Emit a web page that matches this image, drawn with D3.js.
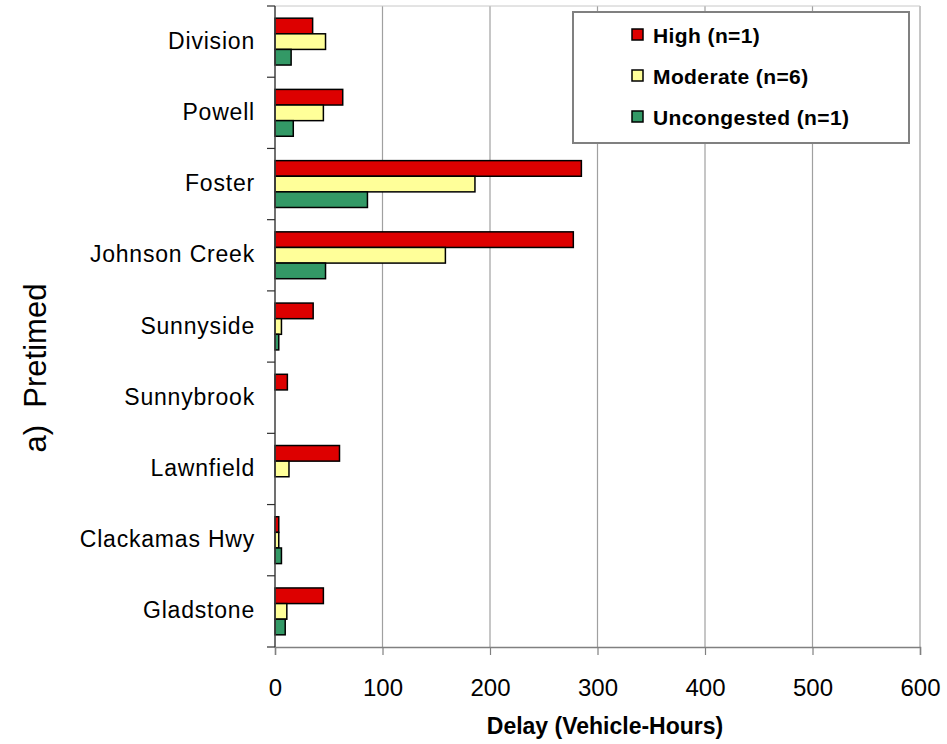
<!DOCTYPE html>
<html><head><meta charset="utf-8">
<script src="https://cdn.jsdelivr.net/npm/d3@7"></script>
<style>body{margin:0;background:#fff}svg{display:block}text{font-family:Arial,"Liberation Sans",sans-serif}</style>
</head><body>
<script>
const categories = ["Division","Powell","Foster","Johnson Creek","Sunnyside","Sunnybrook","Lawnfield","Clackamas Hwy","Gladstone"];
const seriesNames = ["High (n=1)","Moderate (n=6)","Uncongested (n=1)"];
const high = [35, 63, 285, 277.5, 35.5, 11.5, 60, 3.5, 45];
const moderate = [47, 45, 186, 158.5, 6, 0, 13, 3.5, 11];
const uncongested = [15, 17, 86, 47, 3.5, 0, 0, 6, 9.5];
const xTicks = [0,100,200,300,400,500,600];
const colors = ["#DD0000","#FFFF99","#339966"];
const series = [high, moderate, uncongested];

const W = 947, H = 744;
const m = {left:275, right:27, top:6, bottom:97};
const svg = d3.select("body").append("svg").attr("width",W).attr("height",H);
const x = d3.scaleLinear().domain([0,600]).range([m.left, W-m.right]);
const y = d3.scaleBand().domain(categories).range([m.top, H-m.bottom]);
const inner = d3.scaleBand().domain(d3.range(3)).range([0, y.bandwidth()]).paddingInner(0).paddingOuter(0.78);

// gridlines
svg.append("g").selectAll("line").data(xTicks.slice(1)).join("line")
  .attr("x1",d=>x(d)).attr("x2",d=>x(d)).attr("y1",m.top).attr("y2",H-m.bottom)
  .attr("stroke","#a0a0a0").attr("stroke-width",1.2);
svg.append("line").attr("x1",m.left).attr("x2",x(600)).attr("y1",m.top).attr("y2",m.top)
  .attr("stroke","#c8c8c8").attr("stroke-width",1);

// bars
categories.forEach((c,i)=>{
  series.forEach((s,j)=>{
    const v = s[i];
    if(v<=0) return;
    svg.append("rect")
      .attr("x",x(0)).attr("y",y(c)+inner(j))
      .attr("width",x(v)-x(0)).attr("height",inner.bandwidth())
      .attr("fill",colors[j]).attr("stroke","#000").attr("stroke-width",1.5);
  });
});

// bottom axis
const xa = svg.append("g").attr("transform",`translate(0,${H-m.bottom})`)
  .call(d3.axisBottom(x).tickValues(xTicks).tickSize(8).tickPadding(24));
xa.select(".domain").attr("stroke","#808080").attr("stroke-width",1.5);
xa.selectAll(".tick line").attr("stroke","#808080").attr("stroke-width",1.2);
xa.selectAll("text").attr("font-size",24).attr("fill","#000").attr("font-family","Arial, 'Liberation Sans', sans-serif");

// left axis
const yTickPos = d3.range(categories.length+1).map(i=>m.top + i*y.step());
svg.append("line").attr("x1",m.left).attr("x2",m.left).attr("y1",m.top).attr("y2",H-m.bottom)
  .attr("stroke","#404040").attr("stroke-width",1.5);
svg.append("g").selectAll("line").data(yTickPos).join("line")
  .attr("x1",m.left-8).attr("x2",m.left).attr("y1",d=>d).attr("y2",d=>d)
  .attr("stroke","#303030").attr("stroke-width",1.2);
svg.append("g").selectAll("text").data(categories).join("text")
  .attr("x",255).attr("y",d=>y(d)+y.bandwidth()/2 - 1).attr("dy","0.35em")
  .attr("text-anchor","end").attr("font-size",23).attr("letter-spacing","0.8").text(d=>d);

// axis titles
svg.append("text").attr("x",605).attr("y",734).attr("text-anchor","middle")
  .attr("font-size",23).attr("font-weight","bold").text("Delay (Vehicle-Hours)");
svg.append("text").attr("transform","translate(46,368) rotate(-90)").attr("text-anchor","middle")
  .attr("font-size",31).style("white-space","pre").text("a)  Pretimed");

// legend
const lg = svg.append("g");
lg.append("rect").attr("x",573).attr("y",12).attr("width",336).attr("height",131)
  .attr("fill","#fff").attr("stroke","#808080").attr("stroke-width",2);
seriesNames.forEach((n,j)=>{
  const cy = 35 + j*41;
  lg.append("rect").attr("x",632).attr("y",cy-6).attr("width",11).attr("height",11)
    .attr("fill",colors[j]).attr("stroke","#000").attr("stroke-width",1.5);
  lg.append("text").attr("x",653).attr("y",cy).attr("dy","0.36em")
    .attr("font-size",21).attr("font-weight","bold").attr("letter-spacing","0.4").text(n);
});
</script>
</body></html>
